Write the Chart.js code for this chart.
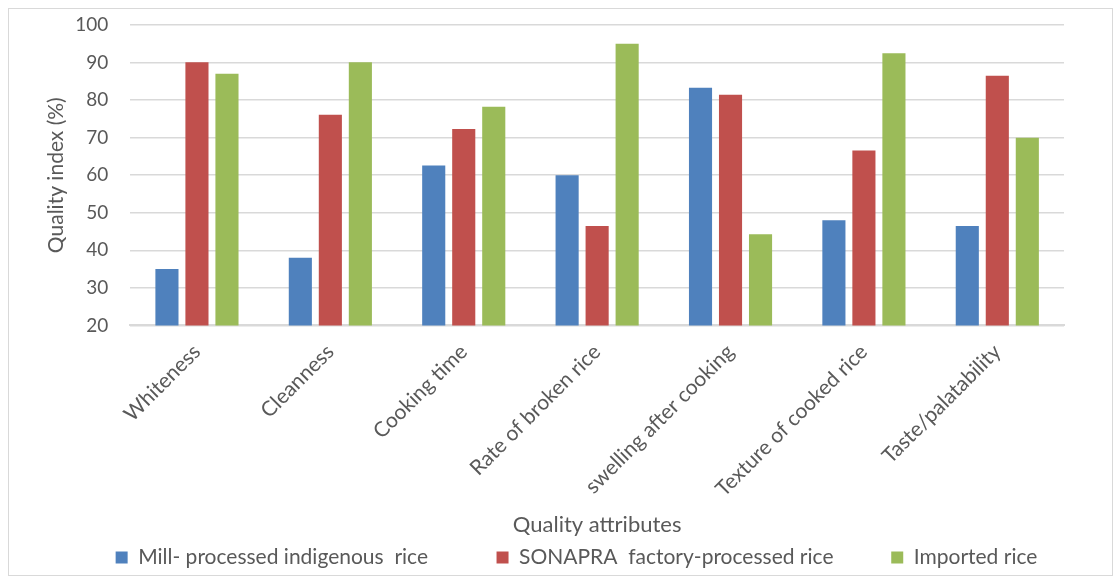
<!DOCTYPE html>
<html>
<head>
<meta charset="utf-8">
<script src="https://cdn.jsdelivr.net/npm/chart.js@4/dist/chart.umd.min.js"></script>
<style>
  html, body { margin: 0; padding: 0; background: #fff; }
  #wrap { position: absolute; left: 8px; top: 8px; width: 1103px; height: 566px; border: 1px solid #d9d9d9; }
</style>
</head>
<body>
<div id="wrap"><canvas id="quality"></canvas></div>
<script>
const attributes = ['Whiteness', 'Cleanness', 'Cooking time', 'Rate of broken rice',
    'swelling after cooking', 'Texture of cooked rice', 'Taste/palatability'];
const millRice = [35, 38, 62.6, 60, 83.3, 48, 46.5];
const sonapraRice = [90.1, 76.1, 72.3, 46.5, 81.4, 66.6, 86.5];
const importedRice = [87, 90.1, 78.2, 95, 44.3, 92.5, 70];
const seriesNames = ['Mill- processed indigenous  rice', 'SONAPRA  factory-processed rice', 'Imported rice'];

const font = "Lato, 'Open Sans', sans-serif";
const grey = '#595959';

// wide gaps between legend entries, like the original
const legendGaps = ['            ', '          ', ''];

// the original legend sits a bit right of centre
const legendShift = {
    id: 'legendShift',
    afterLayout(chart) {
        chart.legend.left += 30;
        chart.legend.right += 30;
    }
};

let ctx = document.getElementById('quality').getContext('2d');
let qualityChart = new Chart(ctx, {
    type: 'bar',
    data: {
        labels: attributes,
        datasets: [
            { label: seriesNames[0], data: millRice, backgroundColor: '#4F81BD' },
            { label: seriesNames[1], data: sonapraRice, backgroundColor: '#C0504D' },
            { label: seriesNames[2], data: importedRice, backgroundColor: '#9BBB59' }
        ]
    },
    plugins: [legendShift],
    options: {
        responsive: true,
        maintainAspectRatio: false,
        animation: false,
        categoryPercentage: 0.675,
        barPercentage: 0.77,
        layout: { padding: { left: 20, right: 48, top: 16, bottom: -3 } },
        plugins: {
            legend: {
                position: 'bottom',
                labels: {
                    boxWidth: 12,
                    boxHeight: 12,
                    padding: 4,
                    color: grey,
                    font: { family: font, size: 21 },
                    generateLabels: (chart) => {
                        let items = Chart.defaults.plugins.legend.labels.generateLabels(chart);
                        items.forEach((it, i) => { it.text = it.text + legendGaps[i]; });
                        return items;
                    }
                }
            },
            tooltip: { enabled: false }
        },
        scales: {
            x: {
                grid: { display: false },
                border: { color: '#d9d9d9', width: 2 },
                ticks: {
                    color: grey,
                    maxRotation: 45,
                    minRotation: 45,
                    padding: 6,
                    font: { family: font, size: 21 }
                },
                title: {
                    display: true,
                    text: 'Quality attributes',
                    color: grey,
                    font: { family: font, size: 22 },
                    padding: { top: 4, bottom: 5 }
                }
            },
            y: {
                min: 20,
                max: 100,
                ticks: {
                    stepSize: 10,
                    color: grey,
                    padding: 4,
                    font: { family: font, size: 19 }
                },
                grid: { color: '#d9d9d9', lineWidth: 1.5, drawTicks: true, tickLength: 18, tickColor: 'rgba(0,0,0,0)' },
                border: { display: false },
                title: {
                    display: true,
                    text: 'Quality index (%)',
                    color: grey,
                    font: { family: font, size: 21 },
                    padding: { top: 15, bottom: 2 }
                }
            }
        }
    }
});
</script>
</body>
</html>
